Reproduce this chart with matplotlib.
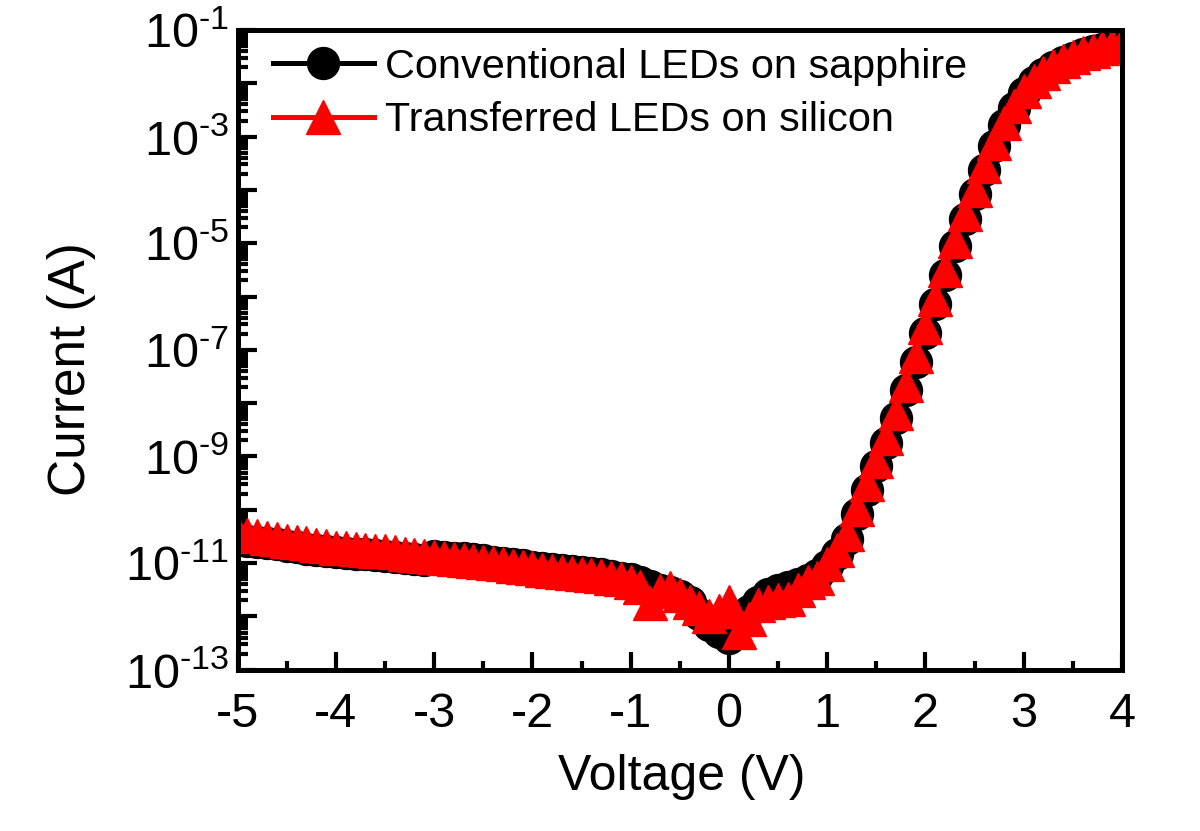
import matplotlib
matplotlib.use('Agg')
import matplotlib.pyplot as plt
from matplotlib.ticker import FixedLocator, FuncFormatter, MultipleLocator
import numpy as np

plt.rcParams['font.family'] = ['Liberation Sans', 'DejaVu Sans']
plt.rcParams['mathtext.fontset'] = 'custom'
plt.rcParams['mathtext.rm'] = 'Liberation Sans'
plt.rcParams['mathtext.it'] = 'Liberation Sans'
plt.rcParams['axes.unicode_minus'] = False

# voltage sweep (V)
voltage = [-5.0, -4.9, -4.8, -4.7, -4.6, -4.5, -4.4, -4.3, -4.2, -4.1,
           -4.0, -3.9, -3.8, -3.7, -3.6, -3.5, -3.4, -3.3, -3.2, -3.1,
           -3.0, -2.9, -2.8, -2.7, -2.6, -2.5, -2.4, -2.3, -2.2, -2.1,
           -2.0, -1.9, -1.8, -1.7, -1.6, -1.5, -1.4, -1.3, -1.2, -1.1,
           -1.0, -0.9, -0.8, -0.7, -0.6, -0.5, -0.4, -0.3, -0.2, -0.1,
           0.0, 0.1, 0.2, 0.3, 0.4, 0.5, 0.6, 0.7, 0.8, 0.9,
           1.0, 1.1, 1.2, 1.3, 1.4, 1.5, 1.6, 1.7, 1.8, 1.9,
           2.0, 2.1, 2.2, 2.3, 2.4, 2.5, 2.6, 2.7, 2.8, 2.9,
           3.0, 3.1, 3.2, 3.3, 3.4, 3.5, 3.6, 3.7, 3.8, 3.9, 4.0]

# log10 of current (A)
log_sapphire = [-10.55, -10.58, -10.60, -10.63, -10.65, -10.68, -10.70, -10.73, -10.76, -10.78,
                -10.80, -10.81, -10.82, -10.83, -10.85, -10.86, -10.88, -10.90, -10.92, -10.94,
                -10.86, -10.88, -10.90, -10.91, -10.93, -10.95, -10.97, -10.99, -11.02, -11.04,
                -11.07, -11.09, -11.11, -11.13, -11.15, -11.17, -11.19, -11.21, -11.24, -11.27,
                -11.30, -11.35, -11.42, -11.50, -11.55, -11.62, -11.72, -11.95, -12.16, -12.30,
                -12.40, -12.10, -11.90, -11.72, -11.58, -11.50, -11.45, -11.40, -11.32, -11.22,
                -11.05, -10.82, -10.55, -10.08, -9.62, -9.18, -8.75, -8.28, -7.76, -7.22,
                -6.68, -6.14, -5.60, -5.06, -4.55, -4.08, -3.62, -3.18, -2.78, -2.46,
                -2.18, -1.97, -1.82, -1.70, -1.60, -1.52, -1.45, -1.40, -1.35, -1.31, -1.27]

log_silicon = [-10.45, -10.48, -10.50, -10.53, -10.55, -10.58, -10.60, -10.63, -10.66, -10.68,
               -10.71, -10.72, -10.74, -10.75, -10.77, -10.78, -10.80, -10.82, -10.84, -10.86,
               -10.88, -10.90, -10.92, -10.94, -10.96, -10.98, -11.00, -11.02, -11.05, -11.07,
               -11.10, -11.12, -11.14, -11.16, -11.18, -11.20, -11.22, -11.24, -11.27, -11.30,
               -11.35, -11.45, -11.75, -11.52, -11.47, -11.60, -11.72, -11.85, -12.00, -11.90,
               -11.72, -12.30, -12.05, -11.78, -11.72, -11.70, -11.68, -11.50, -11.35, -11.28,
               -11.02, -10.75, -10.46, -9.98, -9.52, -9.08, -8.65, -8.18, -7.66, -7.12,
               -6.58, -6.04, -5.50, -4.96, -4.45, -4.00, -3.55, -3.12, -2.74, -2.42,
               -2.15, -1.95, -1.80, -1.68, -1.58, -1.50, -1.44, -1.39, -1.34, -1.30, -1.26]

cur_sapphire = 10 ** np.array(log_sapphire)
cur_silicon = 10 ** np.array(log_silicon)

fig = plt.figure(figsize=(12, 8.31), dpi=100)
ax = fig.add_axes([0.198, 0.194, 0.737, 0.770])

ax.semilogy(voltage, cur_sapphire, '-o', color='black', lw=3.2, ms=23,
            label='Conventional LEDs on sapphire')
ax.semilogy(voltage, cur_silicon, '-^', color='red', lw=3.2, ms=24,
            label='Transferred LEDs on silicon')

ax.set_xlim(-5, 4)
ax.set_ylim(1e-13, 1e-1)

# ticks
ax.xaxis.set_major_locator(MultipleLocator(1))
ax.xaxis.set_minor_locator(MultipleLocator(0.5))
ax.yaxis.set_major_locator(FixedLocator([10.0 ** e for e in range(-13, 0)]))
ax.yaxis.set_minor_locator(FixedLocator([m * 10.0 ** e for e in range(-13, -1)
                                         for m in range(2, 10)]))


def fmt_y(v, pos):
    e = int(round(np.log10(v)))
    if e % 2 == 0:
        return ''
    return r'10$^{\text{-}%d}$' % abs(e)


ax.yaxis.set_major_formatter(FuncFormatter(fmt_y))
ax.yaxis.set_minor_formatter(FuncFormatter(lambda v, p: ''))

ax.tick_params(which='both', direction='in', top=False, right=False,
               width=3, labelsize=35)
ax.tick_params(axis='x', which='major', length=13, pad=16)
ax.tick_params(axis='x', which='minor', length=6.5)
ax.tick_params(axis='y', which='major', length=14, pad=6)
ax.tick_params(axis='y', which='minor', length=7)

for sp in ax.spines.values():
    sp.set_linewidth(3.6)

ax.set_xlabel('Voltage (V)', fontsize=36)
ax.set_ylabel('Current (A)', fontsize=37)
ax.xaxis.set_label_coords(0.502, -0.131)
ax.yaxis.set_label_coords(-0.16, 0.47)

leg = ax.legend(loc='upper left', bbox_to_anchor=(0.04, 0.972), frameon=False,
                fontsize=29.8, numpoints=1, handlelength=2.43,
                handletextpad=0.27, labelspacing=0.37, borderpad=0,
                borderaxespad=0)
for line in leg.get_lines():
    line.set_linewidth(3.6)

fig.savefig('out.png', dpi=100)
